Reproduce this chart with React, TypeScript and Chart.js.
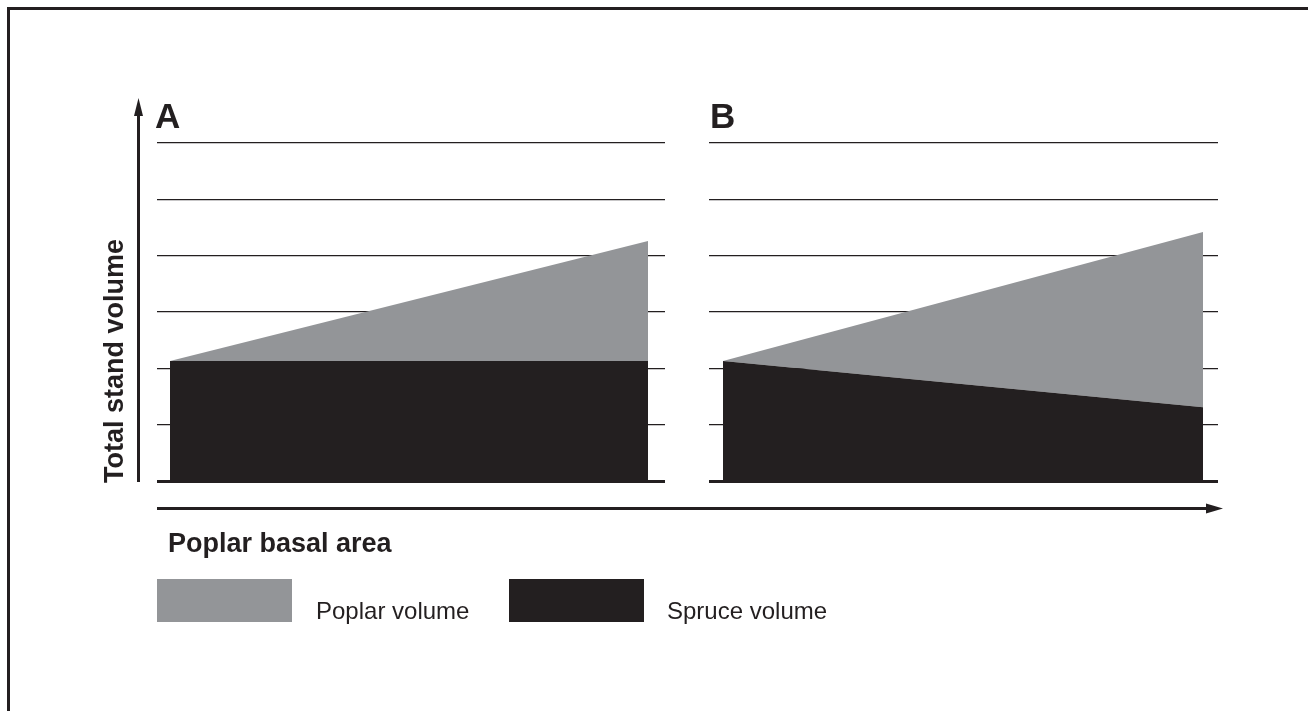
import React, { useEffect, useRef } from "react";
import { Chart, registerables } from "chart.js";

Chart.register(...registerables);

// ---- data ----
const basalArea = [0, 1]; // relative poplar basal area (start, end)
const spruceA = [2.13, 2.13];
const poplarA = [0, 2.13];
const spruceB = [2.13, 1.31];
const poplarB = [0, 3.11];
const yTicks = [0, 1, 2, 3, 4, 5, 6];
const panelLabels = ["A", "B"];
const seriesNames = ["Poplar volume", "Spruce volume"];
const yTitle = "Total stand volume";
const xTitle = "Poplar basal area";

const GRAY = "#939598";
const BLACK = "#231f20";
const FONT = "'Liberation Sans', Arial, sans-serif";

function makeConfig(spruce: number[], poplar: number[], xMin: number, xMax: number): any {
  return {
    type: "line",
    data: {
      labels: basalArea,
      datasets: [
        {
          label: seriesNames[1],
          data: basalArea.map((x, i) => ({ x, y: spruce[i] })),
          backgroundColor: BLACK,
          borderColor: BLACK,
          borderWidth: 0,
          pointRadius: 0,
          fill: "origin",
          tension: 0,
        },
        {
          label: seriesNames[0],
          data: basalArea.map((x, i) => ({ x, y: poplar[i] })),
          backgroundColor: GRAY,
          borderColor: GRAY,
          borderWidth: 0,
          pointRadius: 0,
          fill: "-1",
          tension: 0,
        },
      ],
    },
    options: {
      animation: false,
      responsive: false,
      maintainAspectRatio: false,
      events: [],
      layout: { padding: { left: 10, right: 10, top: 10, bottom: 10 } },
      plugins: { legend: { display: false }, tooltip: { enabled: false } },
      scales: {
        x: { type: "linear", display: false, min: xMin, max: xMax },
        y: {
          type: "linear",
          stacked: true,
          min: yTicks[0],
          max: yTicks[yTicks.length - 1],
          afterBuildTicks: (axis: any) => {
            axis.ticks = yTicks.map((v) => ({ value: v }));
          },
          ticks: { display: false },
          border: { display: false },
          grid: {
            drawTicks: false,
            color: BLACK,
            lineWidth: (ctx: any) => (ctx.tick && ctx.tick.value === 0 ? 3 : 1.2),
          },
        },
      },
    },
  };
}

function Panel(props: { left: number; width: number; spruce: number[]; poplar: number[]; xMin: number; xMax: number }) {
  const ref = useRef<HTMLCanvasElement | null>(null);
  useEffect(() => {
    if (!ref.current) return;
    const chart = new Chart(ref.current, makeConfig(props.spruce, props.poplar, props.xMin, props.xMax));
    return () => chart.destroy();
  }, []);
  return (
    <canvas
      ref={ref}
      width={props.width}
      height={358}
      style={{ position: "absolute", left: props.left, top: 133, width: props.width, height: 358 }}
    />
  );
}

export default function App() {
  return (
    <div style={{ position: "absolute", left: 0, top: 0, width: 1308, height: 711, background: "#fff", overflow: "hidden" }}>
      <Panel left={147} width={528} spruce={spruceA} poplar={poplarA} xMin={-13 / 478} xMax={1 + 17 / 478} />
      <Panel left={699} width={529} spruce={spruceB} poplar={poplarB} xMin={-14 / 480} xMax={1 + 15 / 480} />
      <svg width={1308} height={711} style={{ position: "absolute", left: 0, top: 0, pointerEvents: "none" }}>
        {/* frame */}
        <path d="M 8.5 711 V 8.5 H 1308" fill="none" stroke={BLACK} strokeWidth={3} />
        {/* y arrow */}
        <line x1={138.5} y1={482} x2={138.5} y2={112} stroke={BLACK} strokeWidth={3} />
        <polygon points="138.5,98 134,116 143,116" fill={BLACK} />
        {/* x arrow */}
        <line x1={157} y1={508.5} x2={1210} y2={508.5} stroke={BLACK} strokeWidth={3} />
        <polygon points="1223,508.5 1206,503.5 1206,513.5" fill={BLACK} />
        {/* panel labels */}
        <text x={155} y={128} fontFamily={FONT} fontWeight="bold" fontSize={35} fill={BLACK}>{panelLabels[0]}</text>
        <text x={710} y={128} fontFamily={FONT} fontWeight="bold" fontSize={35} fill={BLACK}>{panelLabels[1]}</text>
        {/* axis titles */}
        <text x={168} y={552} fontFamily={FONT} fontWeight="bold" fontSize={27} fill={BLACK}>{xTitle}</text>
        <text transform="translate(123,483) rotate(-90)" fontFamily={FONT} fontWeight="bold" fontSize={27} fill={BLACK}>{yTitle}</text>
        {/* legend */}
        <rect x={157} y={579} width={135} height={43} fill={GRAY} />
        <text x={316} y={619} fontFamily={FONT} fontSize={24} fill={BLACK}>{seriesNames[0]}</text>
        <rect x={509} y={579} width={135} height={43} fill={BLACK} />
        <text x={667} y={619} fontFamily={FONT} fontSize={24} fill={BLACK}>{seriesNames[1]}</text>
      </svg>
    </div>
  );
}
